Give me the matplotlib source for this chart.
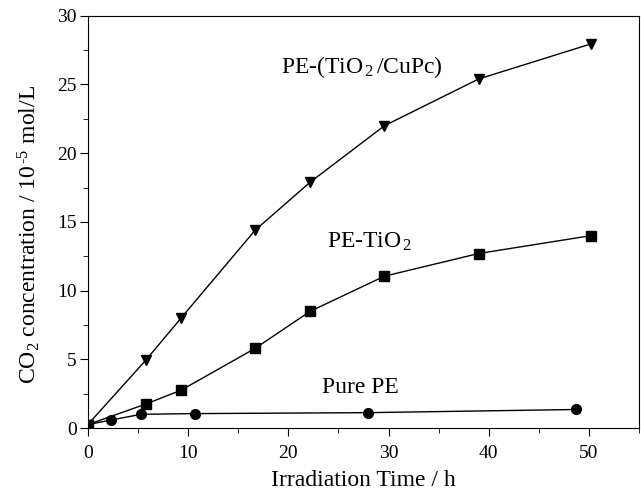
import numpy as np
import matplotlib.pyplot as plt
from matplotlib.ticker import MultipleLocator

plt.rcParams['font.family'] = ['Liberation Serif', 'DejaVu Serif']
plt.rcParams['mathtext.fontset'] = 'custom'
plt.rcParams['mathtext.rm'] = 'Liberation Serif'
plt.rcParams['mathtext.it'] = 'Liberation Serif:italic'

# data
t_cupc = [0, 5.8, 9.3, 16.7, 22.2, 29.6, 39.0, 50.2]
co2_cupc = [0.25, 4.95, 8.0, 14.4, 17.9, 22.0, 25.4, 27.95]

t_tio2 = [0, 5.8, 9.3, 16.7, 22.2, 29.6, 39.0, 50.2]
co2_tio2 = [0.25, 1.75, 2.75, 5.8, 8.5, 11.05, 12.7, 14.0]

t_pure = [0, 2.3, 5.3, 10.7, 28.0, 48.7]
co2_pure = [0.25, 0.58, 1.0, 1.05, 1.12, 1.35]

fig = plt.figure(figsize=(6.41, 4.92), dpi=100)
ax = fig.add_axes([0.137, 0.130, 0.860, 0.838])

ax.plot(t_cupc, co2_cupc, 'k-', marker='v', ms=7.5, lw=1)
ax.plot(t_tio2, co2_tio2, 'k-', marker='s', ms=6.5, lw=1)
ax.plot(t_pure, co2_pure, 'k-', marker='o', ms=7, lw=1)

ax.set_xlim(0, 55)
ax.set_ylim(0, 30)
ax.xaxis.set_major_locator(MultipleLocator(10))
ax.xaxis.set_minor_locator(MultipleLocator(5))
ax.yaxis.set_major_locator(MultipleLocator(5))
ax.yaxis.set_minor_locator(MultipleLocator(2.5))
ax.tick_params(which='both', direction='out', top=False, right=False, labelsize=14)
ax.tick_params(which='major', length=6)
ax.tick_params(which='minor', length=3.5)
ax.tick_params(axis='x', which='major', pad=6)
ax.tick_params(axis='y', which='major', pad=2)

ax.text(19.3, 25.85, 'PE-(TiO$_{\\,2}\\,$/CuPc)', fontsize=17)
ax.text(23.9, 13.1, 'PE-TiO$_{\\,2}$', fontsize=17)
ax.text(23.4, 2.55, 'Pure PE', fontsize=17)

ax.set_xlabel('Irradiation Time / h', fontsize=17)
ax.set_ylabel('CO$_{2}$ concentration / 10$^{\\,\\text{-}5}$ mol/L', fontsize=17)
ax.xaxis.set_label_coords(0.5, -0.102)
ax.yaxis.set_label_coords(-0.083, 0.47)

fig.savefig('out.png', dpi=100)
